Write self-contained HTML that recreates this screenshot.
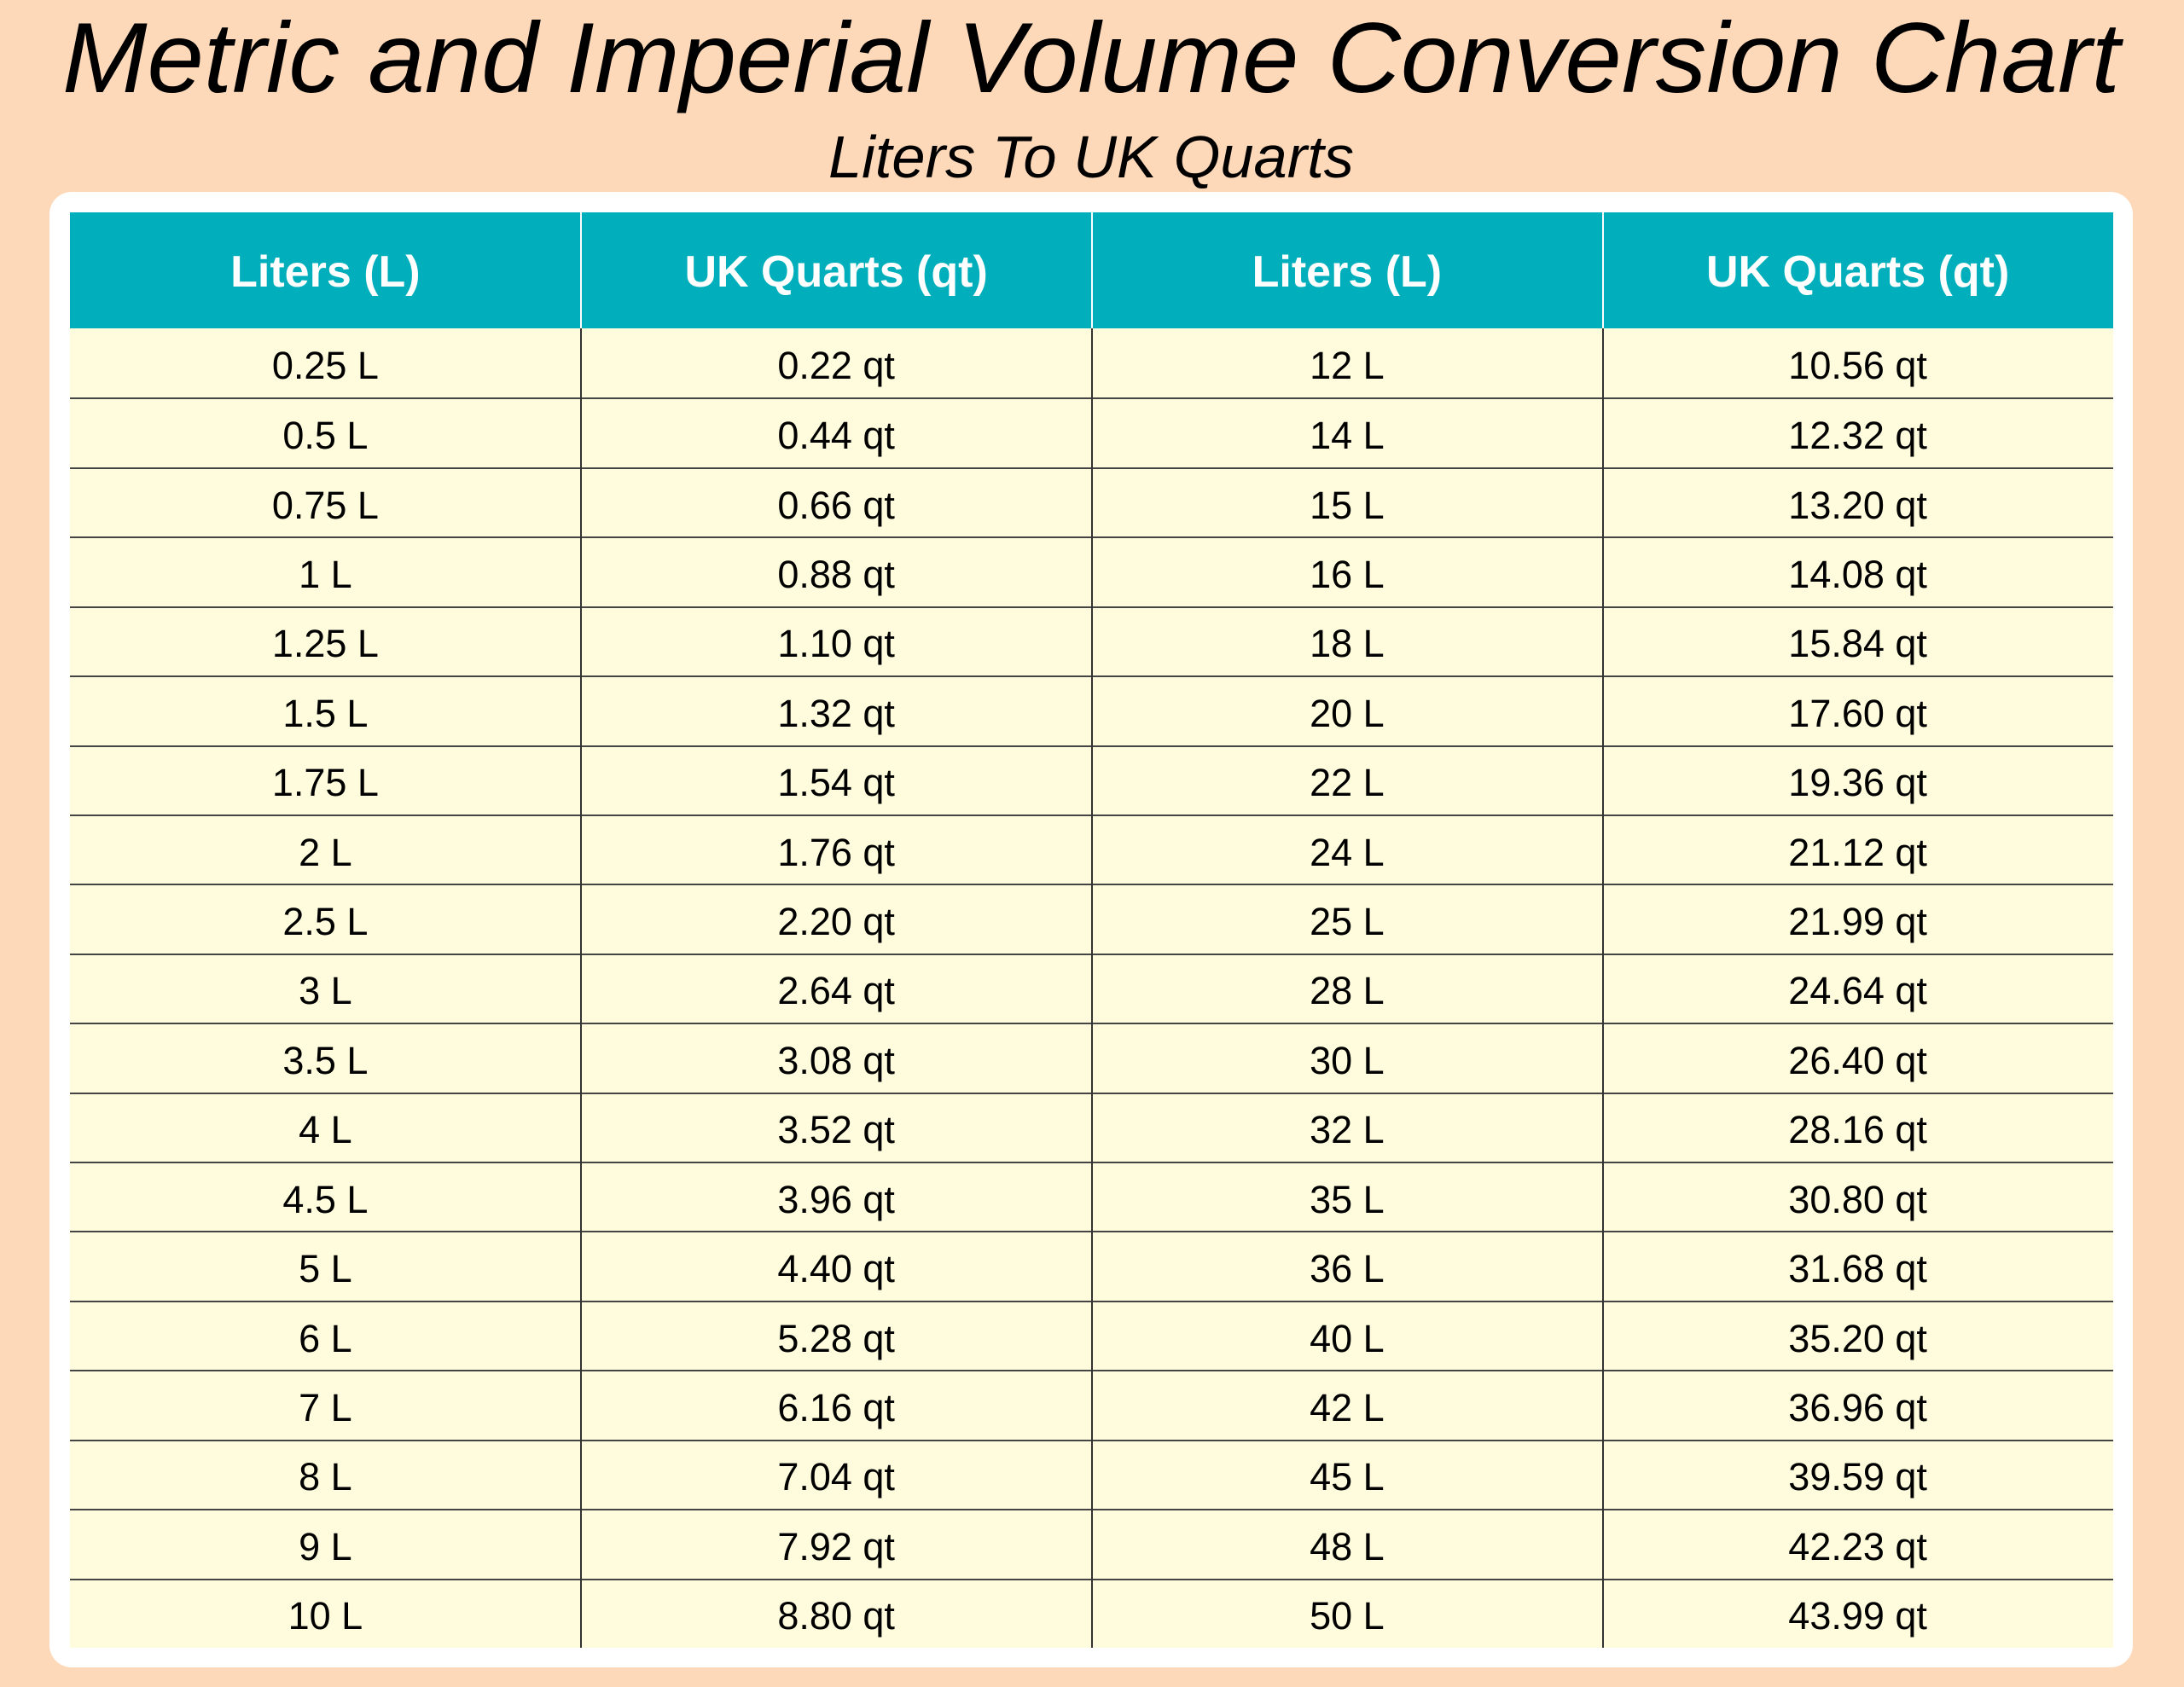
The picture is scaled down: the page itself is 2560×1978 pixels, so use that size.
<!DOCTYPE html>
<html><head><meta charset="utf-8"><style>
html,body{margin:0;padding:0;}
body{width:2560px;height:1978px;background:#FDD9B9;position:relative;overflow:hidden;font-family:"Liberation Sans",sans-serif;}
#panel{position:absolute;left:58px;top:225px;width:2442px;height:1730px;background:#fff;border-radius:26px;}
#head{position:absolute;left:82px;top:249px;width:2395px;height:136px;background:#00AFBB;display:grid;grid-template-columns:repeat(4,1fr);}
#head div{color:#fff;font-weight:bold;font-size:52px;display:flex;align-items:center;justify-content:center;padding-top:4px;}
#body{position:absolute;left:82px;top:385px;width:2395px;height:1547px;background:#FEFCDC;display:grid;grid-template-rows:repeat(19,1fr);}
.r{display:grid;grid-template-columns:repeat(4,1fr);border-top:2px solid #444;box-sizing:border-box;}
.r:first-child{border-top:none;}
.r div{font-size:45px;display:flex;align-items:center;justify-content:center;padding-top:6px;}
.v{position:absolute;width:2px;}
svg{position:absolute;left:0;top:0;}
</style></head><body>
<svg width="2560" height="225">
<text x="73" y="108" font-family="Liberation Sans, sans-serif" font-style="italic" font-size="117" textLength="2412" lengthAdjust="spacingAndGlyphs">Metric and Imperial Volume Conversion Chart</text>
<text x="971" y="208" font-family="Liberation Sans, sans-serif" font-style="italic" font-size="70" textLength="616" lengthAdjust="spacingAndGlyphs">Liters To UK Quarts</text>
</svg>
<div id="panel"></div>
<div id="head"><div>Liters (L)</div><div>UK Quarts (qt)</div><div>Liters (L)</div><div>UK Quarts (qt)</div></div>
<div id="body">
<div class="r"><div>0.25 L</div><div>0.22 qt</div><div>12 L</div><div>10.56 qt</div></div>
<div class="r"><div>0.5 L</div><div>0.44 qt</div><div>14 L</div><div>12.32 qt</div></div>
<div class="r"><div>0.75 L</div><div>0.66 qt</div><div>15 L</div><div>13.20 qt</div></div>
<div class="r"><div>1 L</div><div>0.88 qt</div><div>16 L</div><div>14.08 qt</div></div>
<div class="r"><div>1.25 L</div><div>1.10 qt</div><div>18 L</div><div>15.84 qt</div></div>
<div class="r"><div>1.5 L</div><div>1.32 qt</div><div>20 L</div><div>17.60 qt</div></div>
<div class="r"><div>1.75 L</div><div>1.54 qt</div><div>22 L</div><div>19.36 qt</div></div>
<div class="r"><div>2 L</div><div>1.76 qt</div><div>24 L</div><div>21.12 qt</div></div>
<div class="r"><div>2.5 L</div><div>2.20 qt</div><div>25 L</div><div>21.99 qt</div></div>
<div class="r"><div>3 L</div><div>2.64 qt</div><div>28 L</div><div>24.64 qt</div></div>
<div class="r"><div>3.5 L</div><div>3.08 qt</div><div>30 L</div><div>26.40 qt</div></div>
<div class="r"><div>4 L</div><div>3.52 qt</div><div>32 L</div><div>28.16 qt</div></div>
<div class="r"><div>4.5 L</div><div>3.96 qt</div><div>35 L</div><div>30.80 qt</div></div>
<div class="r"><div>5 L</div><div>4.40 qt</div><div>36 L</div><div>31.68 qt</div></div>
<div class="r"><div>6 L</div><div>5.28 qt</div><div>40 L</div><div>35.20 qt</div></div>
<div class="r"><div>7 L</div><div>6.16 qt</div><div>42 L</div><div>36.96 qt</div></div>
<div class="r"><div>8 L</div><div>7.04 qt</div><div>45 L</div><div>39.59 qt</div></div>
<div class="r"><div>9 L</div><div>7.92 qt</div><div>48 L</div><div>42.23 qt</div></div>
<div class="r"><div>10 L</div><div>8.80 qt</div><div>50 L</div><div>43.99 qt</div></div>
</div>
<div class="v" style="left:680px;top:249px;height:136px;background:#fff"></div>
<div class="v" style="left:1279px;top:249px;height:136px;background:#fff"></div>
<div class="v" style="left:1878px;top:249px;height:136px;background:#fff"></div>
<div class="v" style="left:680px;top:385px;height:1547px;background:#333"></div>
<div class="v" style="left:1279px;top:385px;height:1547px;background:#333"></div>
<div class="v" style="left:1878px;top:385px;height:1547px;background:#333"></div>
</body></html>
